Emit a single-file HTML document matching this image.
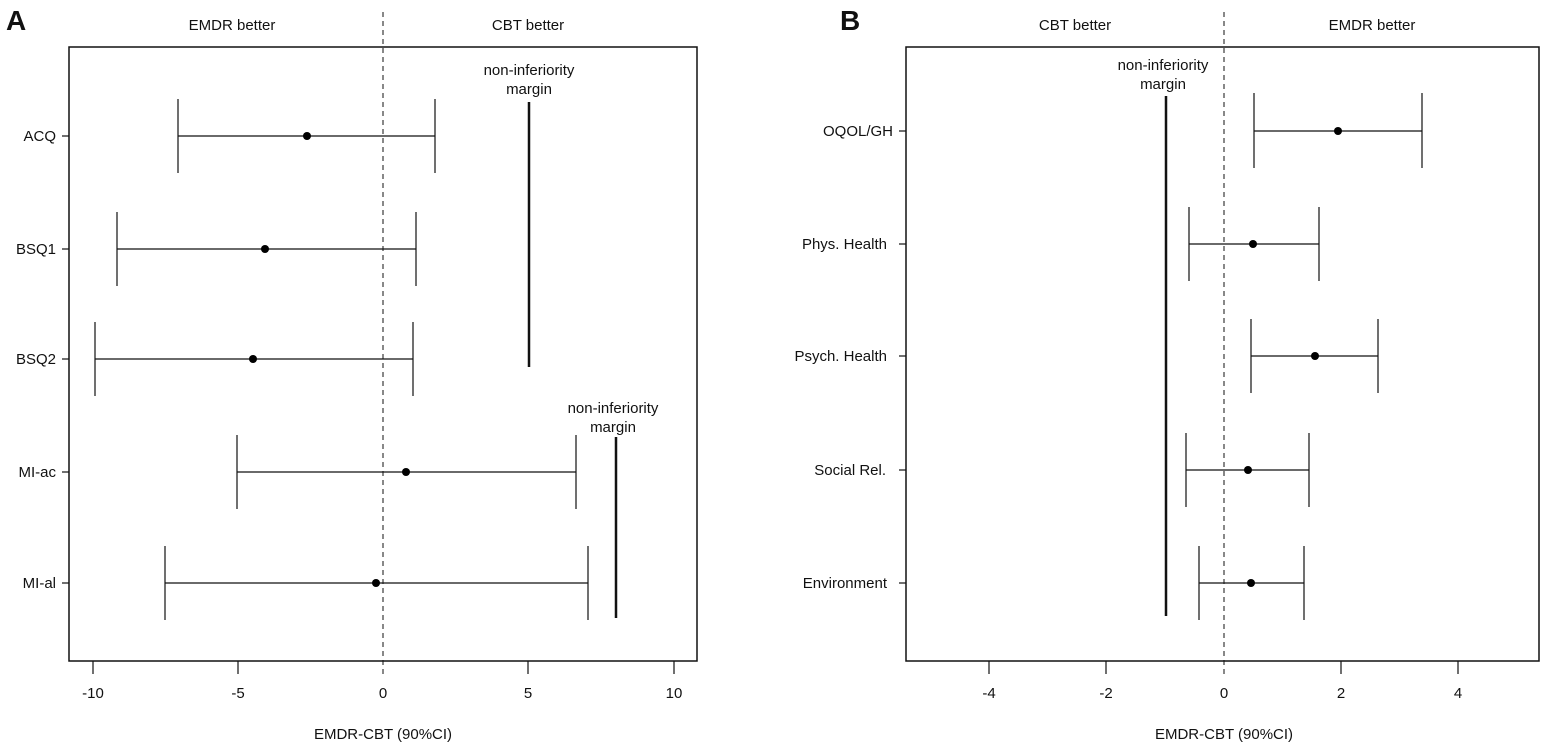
<!DOCTYPE html>
<html><head><style>body{margin:0;background:#fff}svg{display:block}text{font-family:"Liberation Sans",Arial,sans-serif;font-size:15px;fill:#111}</style></head>
<body>
<svg width="1547" height="750" viewBox="0 0 1547 750">
<g stroke="#111" fill="none">
<rect x="69" y="47" width="628" height="614" stroke-width="1.5"/>
<rect x="906" y="47" width="633" height="614" stroke-width="1.5"/>
<line x1="383" y1="12" x2="383" y2="675" stroke-dasharray="5,4"/>
<line x1="1224" y1="12" x2="1224" y2="675" stroke-dasharray="5,4"/>
<!-- ticks A -->
<g stroke-width="1.2">
<line x1="93" y1="661" x2="93" y2="674"/><line x1="238" y1="661" x2="238" y2="674"/><line x1="528" y1="661" x2="528" y2="674"/><line x1="674" y1="661" x2="674" y2="674"/>
<line x1="989" y1="661" x2="989" y2="674"/><line x1="1106" y1="661" x2="1106" y2="674"/><line x1="1341" y1="661" x2="1341" y2="674"/><line x1="1458" y1="661" x2="1458" y2="674"/>
<line x1="62" y1="136" x2="69" y2="136"/><line x1="62" y1="249" x2="69" y2="249"/><line x1="62" y1="359" x2="69" y2="359"/><line x1="62" y1="472" x2="69" y2="472"/><line x1="62" y1="583" x2="69" y2="583"/>
<line x1="899" y1="131" x2="906" y2="131"/><line x1="899" y1="244" x2="906" y2="244"/><line x1="899" y1="356" x2="906" y2="356"/><line x1="899" y1="470" x2="906" y2="470"/><line x1="899" y1="583" x2="906" y2="583"/>
</g>
<!-- margins -->
<line x1="529" y1="102" x2="529" y2="367" stroke-width="2.5"/>
<line x1="616" y1="437" x2="616" y2="618" stroke-width="2.5"/>
<line x1="1166" y1="96" x2="1166" y2="616" stroke-width="2.5"/>
<!-- CI A -->
<g stroke-width="1.2">
<path d="M178 136H435M178 99V173M435 99V173"/>
<path d="M117 249H416M117 212V286M416 212V286"/>
<path d="M95 359H413M95 322V396M413 322V396"/>
<path d="M237 472H576M237 435V509M576 435V509"/>
<path d="M165 583H588M165 546V620M588 546V620"/>
<path d="M1254 131H1422M1254 93V168M1422 93V168"/>
<path d="M1189 244H1319M1189 207V281M1319 207V281"/>
<path d="M1251 356H1378M1251 319V393M1378 319V393"/>
<path d="M1186 470H1309M1186 433V507M1309 433V507"/>
<path d="M1199 583H1304M1199 546V620M1304 546V620"/>
</g>
</g>
<g fill="#000">
<circle cx="307" cy="136" r="4"/><circle cx="265" cy="249" r="4"/><circle cx="253" cy="359" r="4"/><circle cx="406" cy="472" r="4"/><circle cx="376" cy="583" r="4"/>
<circle cx="1338" cy="131" r="4"/><circle cx="1253" cy="244" r="4"/><circle cx="1315" cy="356" r="4"/><circle cx="1248" cy="470" r="4"/><circle cx="1251" cy="583" r="4"/>
</g>
<text x="6" y="30" style="font-size:28px;font-weight:bold">A</text>
<text x="840" y="30" style="font-size:28px;font-weight:bold">B</text>
<g text-anchor="middle">
<text x="232" y="30">EMDR better</text><text x="528" y="30">CBT better</text>
<text x="1075" y="30">CBT better</text><text x="1372" y="30">EMDR better</text>
<text x="529" y="75">non-inferiority</text><text x="529" y="94">margin</text>
<text x="613" y="413">non-inferiority</text><text x="613" y="432">margin</text>
<text x="1163" y="70">non-inferiority</text><text x="1163" y="89">margin</text>
<text x="93" y="698">-10</text><text x="238" y="698">-5</text><text x="383" y="698">0</text><text x="528" y="698">5</text><text x="674" y="698">10</text>
<text x="989" y="698">-4</text><text x="1106" y="698">-2</text><text x="1224" y="698">0</text><text x="1341" y="698">2</text><text x="1458" y="698">4</text>
<text x="383" y="739">EMDR-CBT (90%CI)</text><text x="1224" y="739">EMDR-CBT (90%CI)</text>
</g>
<g text-anchor="end">
<text x="56" y="141">ACQ</text><text x="56" y="254">BSQ1</text><text x="56" y="364">BSQ2</text><text x="56" y="477">MI-ac</text><text x="56" y="588">MI-al</text>
<text x="893" y="136">OQOL/GH</text><text x="887" y="249">Phys. Health</text><text x="887" y="361">Psych. Health</text><text x="886" y="475">Social Rel.</text><text x="887" y="588">Environment</text>
</g>
</svg>
</body></html>
